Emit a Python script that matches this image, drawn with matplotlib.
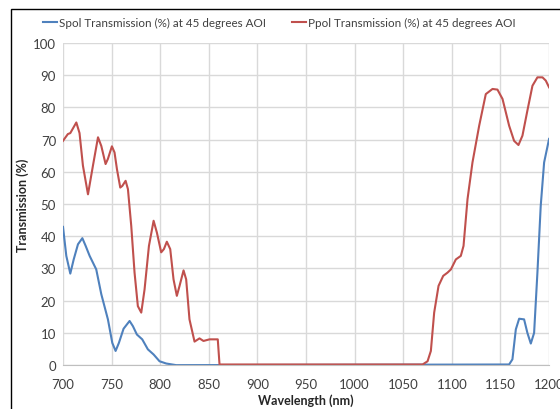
import matplotlib.pyplot as plt
from matplotlib.patches import Rectangle

plt.rcParams['font.family'] = ['Lato', 'DejaVu Sans']

# wavelengths (nm) and transmission (%)
spolWl = [700, 703.4, 707.5, 711, 715.4, 719.9, 723.3, 727.4, 734.2, 739.4,
          746.2, 750.7, 754.1, 757.5, 762.3, 768.5, 771.9, 776, 781.5, 787.3,
          793.2, 799.3, 806.2, 816.4, 1158.9, 1162.3, 1165.8, 1169.2, 1174.3,
          1177.7, 1181.2, 1184.6, 1188, 1191.4, 1194.9, 1200]
spolT = [42.9, 33.9, 28.4, 32.8, 37.5, 39.4, 37, 33.9, 29.7, 22,
         14.2, 6.9, 4.4, 6.9, 11.3, 13.7, 12.1, 9.5, 8, 4.9,
         3.3, 1.2, 0.5, 0, 0.2, 1.8, 11.1, 14.4, 14.2,
         10, 6.7, 10, 28.7, 49.4, 62.9, 70.2]

ppolWl = [700, 705, 707.5, 713.7, 717, 720.5, 725.7, 730.8, 736, 739.4,
          743.8, 746.2, 750.3, 753, 755.5, 758.9, 761, 764.4, 766.8, 770.2,
          773.6, 777, 780.5, 783.9, 788.4, 793.2, 796.6, 801, 803.8, 806.8,
          810.3, 813.7, 817.1, 819.9, 824, 826.7, 830.1, 835.3, 840.4, 844.5,
          850.7, 859.2, 861, 1069.9, 1075, 1078.4, 1081.8, 1086.3, 1091.1,
          1095.5, 1099, 1104.1, 1109.2, 1112, 1116.1, 1121.2, 1128.1, 1134.9,
          1141.8, 1146.9, 1152.1, 1158.9, 1164, 1168.5, 1172.6, 1177.7,
          1182.9, 1188, 1193.2, 1196.6, 1200]
ppolT = [69.6, 71.7, 72, 75.3, 72, 61.9, 53, 61.9, 70.7, 68,
         62.4, 64, 67.9, 66, 60.8, 55.1, 55.6, 57.2, 54.6, 43.2,
         28.7, 18.3, 16.3, 23.5, 37, 44.8, 41.1, 35, 36, 38.3,
         36, 26.6, 21.5, 24.6, 29.4, 26.6, 14.2, 7.3, 8.3, 7.5,
         8, 8, 0.2, 0.2, 1.2, 4.4, 16.3, 24.6, 27.7,
         28.7, 29.7, 32.8, 33.9, 37, 51.5, 62.9, 74.3, 84.1,
         85.7, 85.5, 82.6, 74.3, 69.6, 68.3, 71.2, 79,
         86.7, 89.3, 89.3, 88.3, 86.2]

xTicks = list(range(700, 1201, 50))
yTicks = list(range(0, 101, 10))

fig = plt.figure(figsize=(5.6, 4.1), dpi=100)
ax = fig.add_axes([0.1125, 0.107, 0.868, 0.786])

ax.plot(spolWl, spolT, color="#4F81BD", lw=1.5,
        label="Spol Transmission (%) at 45 degrees AOI")
ax.plot(ppolWl, ppolT, color="#C0504D", lw=1.5,
        label="Ppol Transmission (%) at 45 degrees AOI")

ax.set_xlim(700, 1200)
ax.set_ylim(0, 100)
ax.set_xticks(xTicks)
ax.set_yticks(yTicks)
ax.grid(True, color="#d9d9d9", lw=1)
ax.set_axisbelow(True)
for s in ["top", "right", "left"]:
    ax.spines[s].set_visible(False)
ax.spines["bottom"].set_color("#bfbfbf")
ax.tick_params(axis="y", length=0, labelsize=9.5, colors="#404040", pad=5)
ax.tick_params(axis="x", length=0, labelsize=9.5, colors="#404040", pad=9)
ax.set_xlabel("Wavelength (nm)", fontsize=9, fontweight="bold", color="#262626", labelpad=3)
ax.set_ylabel("Transmission (%)", fontsize=9, fontweight="bold", color="#262626", labelpad=3)

ax.legend(loc="lower center", bbox_to_anchor=(0.445, 1.0), ncol=2, frameon=False,
          fontsize=8.4, handlelength=1.2, handletextpad=0.1, columnspacing=2.3,
          labelcolor="#404040", borderaxespad=0.9)

# outer chart border
fig.patches.append(Rectangle((11 / 560, -0.05), 1.1, 1 - 10 / 410 + 0.05,
                             transform=fig.transFigure, fill=False,
                             edgecolor="black", lw=1))

plt.savefig("out.png")
